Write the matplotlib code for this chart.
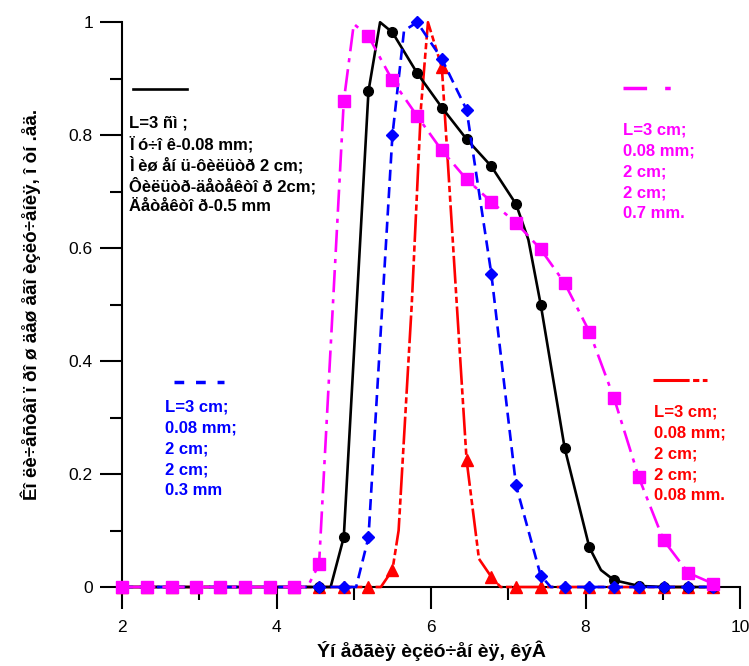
import matplotlib.pyplot as plt

plt.rcParams['font.family'] = ['Liberation Sans', 'DejaVu Sans']
plt.rcParams['lines.scale_dashes'] = False

# ---------------- DATA ----------------
energy = [2.00, 2.32, 2.64, 2.96, 3.27, 3.59, 3.91, 4.23, 4.55, 4.87,
          5.19, 5.50, 5.82, 6.14, 6.46, 6.78, 7.10, 7.42, 7.73, 8.05,
          8.37, 8.69, 9.01, 9.33, 9.65]

# detector 0.5 mm (black)
det_05 = [0, 0, 0, 0, 0, 0, 0, 0, 0, 0.088,
          0.878, 0.982, 0.910, 0.849, 0.793, 0.745, 0.678, 0.500, 0.246, 0.070,
          0.012, 0.002, 0, 0, 0]
det_05_x_extra = [4.70, 5.34, 7.26, 8.20]
det_05_y_extra = [0.0, 1.0, 0.615, 0.030]

# 0.3 mm (blue)
det_03 = [0, 0, 0, 0, 0, 0, 0, 0, 0, 0,
          0.088, 0.800, 1.000, 0.935, 0.845, 0.555, 0.180, 0.020, 0, 0,
          0, 0, 0, 0, 0]
det_03_x_extra = [5.03, 5.65, 7.55]
det_03_y_extra = [0.0, 0.985, 0.0]

# 0.7 mm (magenta)
det_07 = [0, 0, 0, 0, 0, 0, 0, 0, 0.040, 0.860,
          0.975, 0.897, 0.834, 0.773, 0.722, 0.682, 0.645, 0.598, 0.538, 0.452,
          0.334, 0.194, 0.083, 0.025, 0.006]
det_07_x_extra = [4.40, 5.00]
det_07_y_extra = [0.0, 0.997]

# 0.08 mm (red)
det_008 = [0, 0, 0, 0, 0, 0, 0, 0, 0, 0,
           0, 0.030, None, 0.920, 0.225, 0.018, 0, 0, 0, 0,
           0, 0, 0, 0, 0]
det_008_x_extra = [5.35, 5.58, 5.75, 5.87, 5.96, 6.62, 6.90]
det_008_y_extra = [0.0, 0.10, 0.50, 0.85, 1.0, 0.05, 0.0]

x_label = "Ýí åðãèÿ èçëó÷åí èÿ, êýÂ"
y_label = "Êî ëè÷åñòâî ï ðî ø äåø åãî èçëó÷åíèÿ, î òí .åä."

black_text = ["L=3 ñì ;", "Ï ó÷î ê-0.08 mm;", "Ì èø åí ü-ôèëüòð 2 cm;",
              "Ôèëüòð-äåòåêòî ð 2cm;", "Äåòåêòî ð-0.5 mm"]
pink_text = ["L=3 cm;", "0.08 mm;", "2 cm;", "2 cm;", "0.7 mm."]
blue_text = ["L=3 cm;", "0.08 mm;", "2 cm;", "2 cm;", "0.3 mm"]
red_text = ["L=3 cm;", "0.08 mm;", "2 cm;", "2 cm;", "0.08 mm."]


def line_points(vals, xe, ye):
    pts = [(x, y) for x, y in zip(energy, vals) if y is not None]
    pts += list(zip(xe, ye))
    pts.sort()
    return [p[0] for p in pts], [p[1] for p in pts]


def marker_points(vals):
    pts = [(x, y) for x, y in zip(energy, vals) if y is not None]
    return [p[0] for p in pts], [p[1] for p in pts]


# ---------------- STYLES ----------------
series = [
    (det_008, det_008_x_extra, det_008_y_extra, "#ff0000", (0, (20, 2.5, 4.5, 2.5, 4.5, 2.5)), "^", 8),
    (det_05, det_05_x_extra, det_05_y_extra, "#000000", "-", "o", 7),
    (det_03, det_03_x_extra, det_03_y_extra, "#0000ff", (0, (8, 4.5)), "D", 6.5),
    (det_07, det_07_x_extra, det_07_y_extra, "#ff00ff", (0, (16, 5, 3, 5)), "s", 9),
]

# ---------------- PLOT ----------------
fig = plt.figure(figsize=(7.49, 6.66), dpi=100)
ax = fig.add_axes([0.163, 0.1186, 0.825, 0.848])

for z, (vals, xe, ye, col, ls, mk, ms) in enumerate(series):
    lx, ly = line_points(vals, xe, ye)
    ax.plot(lx, ly, color=col, linestyle=ls, lw=1.9, zorder=3 + z, clip_on=False)
    mx, my = marker_points(vals)
    ax.plot(mx, my, linestyle="none", marker=mk, ms=ms, color=col,
            mec=col, zorder=3 + z, clip_on=False)

ax.set_xlim(2, 10)
ax.set_ylim(0, 1)
ax.set_xticks([2, 4, 6, 8, 10])
ax.set_xticks([3, 5, 7, 9], minor=True)
ax.set_yticks([0, 0.2, 0.4, 0.6, 0.8, 1])
ax.set_yticklabels(["0", "0.2", "0.4", "0.6", "0.8", "1"])
ax.set_yticks([0.1, 0.3, 0.5, 0.7, 0.9], minor=True)

for s in ["top", "right"]:
    ax.spines[s].set_visible(False)
for s in ["left", "bottom"]:
    ax.spines[s].set_linewidth(1.5)

ax.tick_params(which="major", direction="out", length=16, width=1.5,
               labelsize=12.5)
ax.tick_params(axis="x", which="major", pad=8)
ax.tick_params(axis="y", which="major", pad=5)
ax.tick_params(which="minor", direction="out", length=9, width=1.5)

ax.set_xlabel(x_label, fontsize=14, fontweight="bold", labelpad=4)
ax.set_ylabel(y_label, fontsize=13.5, fontweight="bold", labelpad=20)

# legend-like samples
ax.plot([2.14, 2.84], [0.881, 0.881], color="#000000", lw=1.9, clip_on=False)
ax.plot([8.49, 9.22], [0.883, 0.883], color="#ff00ff", lw=2.5,
        linestyle=(0, (17, 13, 4, 30)), clip_on=False)
ax.plot([2.67, 3.32], [0.363, 0.363], color="#0000ff", lw=2.5,
        linestyle=(0, (7, 8.5)), clip_on=False)
ax.plot([8.87, 9.57], [0.366, 0.366], color="#ff0000", lw=2.2,
        linestyle=(0, (26, 2.5, 4.5, 2.5)), clip_on=False)


def put_lines(lines, x, y0, col):
    for i, t in enumerate(lines):
        ax.text(x, y0 - i * 0.037, t, color=col, fontsize=12,
                fontweight="bold", va="center", ha="left", zorder=10)


put_lines(black_text, 2.09, 0.821, "#000000")
put_lines(pink_text, 8.49, 0.809, "#ff00ff")
put_lines(blue_text, 2.56, 0.319, "#0000ff")
put_lines(red_text, 8.89, 0.310, "#ff0000")

fig.savefig("out.png", dpi=100)
